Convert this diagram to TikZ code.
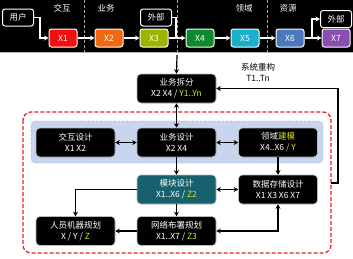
\documentclass[tikz,border=0pt]{standalone}
\usepackage{fontspec}
\setmainfont{Noto Sans CJK SC}
\usetikzlibrary{arrows.meta}
\definecolor{yel}{HTML}{DDE31C}
\definecolor{cX1}{HTML}{F20F0F}
\definecolor{cX2}{HTML}{F2680F}
\definecolor{cX3}{HTML}{9CB400}
\definecolor{cX4}{HTML}{0E8A2C}
\definecolor{cX5}{HTML}{1AAFCB}
\definecolor{cX6}{HTML}{4A78BE}
\definecolor{cX7}{HTML}{8A4EB0}
\definecolor{teal}{HTML}{17616E}
\definecolor{panel}{HTML}{C7D5EE}
\definecolor{panelb}{HTML}{9A88C8}
\definecolor{frame}{HTML}{E5202A}
\begin{document}
\begin{tikzpicture}[x=1pt,y=-1pt,
  topbox/.style={draw=white, line width=1pt, rounded corners=2.5pt, minimum width=28pt, minimum height=18pt, inner sep=0pt, text=white, font=\fontsize{8.5}{9}\selectfont},
  extbox/.style={topbox, fill=black, minimum width=31pt, minimum height=17pt},
  blk/.style={fill=black, draw=gray!55, line width=0.6pt, rounded corners=4pt, minimum width=79pt, minimum height=29pt, inner sep=0pt, text=white, align=center, font=\fontsize{8.5}{11}\selectfont},
  lbl/.style={font=\fontsize{8.5}{11}\selectfont, align=center, inner sep=0pt},
  warr/.style={white, line width=1.2pt, -{Stealth[length=4.5pt,width=5pt]}},
  wline/.style={white, line width=1.2pt},
  barr/.style={black, line width=1.2pt, -{Stealth[length=4.5pt,width=5pt]}},
  darr/.style={black, line width=1.2pt, {Stealth[length=4.5pt,width=5pt]}-{Stealth[length=4.5pt,width=5pt]}},
  sep/.style={gray!70, dashed, line width=0.8pt, dash pattern=on 3pt off 2pt}]
\useasboundingbox (0,0) rectangle (353,258);
% top band
\fill[black] (0,0) rectangle (353,52);
\draw[gray!60, line width=1pt] (0,52.5) -- (353,52.5);
\draw[sep] (84,0) -- (84,52);
\draw[sep] (177,0) -- (177,52);
\draw[sep] (267,0) -- (267,52);
\node[lbl, text=white] (l1) at (62,8) {交互};
\node[lbl, text=white] (l2) at (106,8) {业务};
\node[lbl, text=white] (l3) at (244,8) {领域};
\node[lbl, text=white] (l4) at (288,8) {资源};
\node[extbox] (user) at (18,17.5) {用户};
\node[extbox] (ext1) at (156,17.5) {外部};
\node[extbox] (ext2) at (336,19) {外部};
\node[topbox, fill=cX1] (x1) at (63,38) {X1};
\node[topbox, fill=cX2] (x2) at (109,38) {X2};
\node[topbox, fill=cX3] (x3) at (154,38) {X3};
\node[topbox, fill=cX4] (x4) at (200,38) {X4};
\node[topbox, fill=cX5] (x5) at (245,38) {X5};
\node[topbox, fill=cX6] (x6) at (290,38) {X6};
\node[topbox, fill=cX7] (x7) at (336,38) {X7};
\coordinate (j1) at (176,38);
\coordinate (j2) at (312,38);
\draw[warr] (user.east) -- ++(6,0) |- (x1.west);
\draw[warr] (x1) -- (x2);
\draw[warr] (x2) -- (x3);
\draw[warr] (x3) -- (x4);
\draw[wline] (ext1.east) -| (j1);
\draw[warr] (x4) -- (x5);
\draw[warr] (x5) -- (x6);
\draw[warr] (x6) -- (x7);
\draw[warr] (j2) |- (ext2.west);
% frames
\draw[frame, line width=1.3pt, dash pattern=on 4pt off 2pt, rounded corners=8pt] (23,112) rectangle (331,253);
\draw[fill=panel, draw=panelb, line width=0.6pt, dotted, rounded corners=4pt] (31,121) rectangle (323,163);
% nodes
\node[blk] (split) at (176.5,88.5) {业务拆分\\X2 X4 / \textcolor{yel}{Y1..Yn}};
\node[lbl] (refac) at (258,72.5) {系统重构\\T1..Tn};
\node[blk] (ixd) at (75.5,142.5) {交互设计\\X1 X2};
\node[blk] (biz) at (176.5,142.5) {业务设计\\X2 X4};
\node[blk] (dom) at (278,142.5) {领域\textcolor{yel}{建模}\\X4..X6 \textcolor{yel}{/ Y}};
\node[blk, fill=teal] (mod) at (176.5,189.5) {模块设计\\X1..X6 / \textcolor{yel}{Z2}};
\node[blk] (data) at (278,189.5) {数据存储设计\\X1 X3 X6 X7};
\node[blk] (net) at (176.5,231) {网络布署规划\\X1..X7 / \textcolor{yel}{Z3}};
\node[blk] (ppl) at (75.5,231) {人员机器规划\\X / Y / \textcolor{yel}{Z}};
\coordinate (top) at (177,55);
\coordinate (fr) at (331,183);
% connectors
\draw[barr] (top) -- (split.north);
\draw[barr] (fr) -- ++(7,0) |- (split.east);
\draw[darr] (split) -- (biz);
\draw[darr] (ixd) -- (biz);
\draw[darr] (biz) -- (dom);
\draw[barr] (biz) -- (mod);
\draw[barr] (dom) -- (data);
\draw[darr] (mod) -- (data);
\draw[barr] (mod) -- (net);
\draw[barr] (mod.west) -| (ppl.north);
\draw[barr] (net) -- (ppl);
\draw[darr] (net.east) -| (data.south);
\end{tikzpicture}
\end{document}
